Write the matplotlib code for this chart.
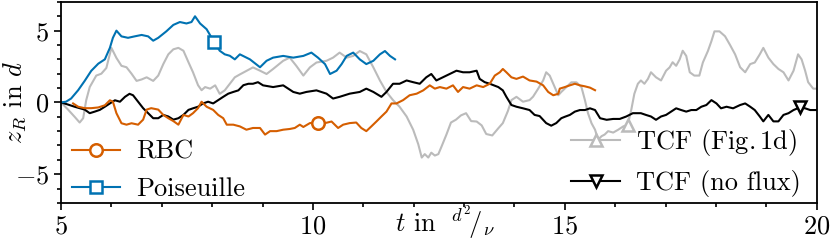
import matplotlib
matplotlib.use("Agg")
import matplotlib.pyplot as plt
from matplotlib.ticker import MultipleLocator

plt.rcParams['font.family'] = ['cmr10', 'DejaVu Serif']
plt.rcParams['mathtext.fontset'] = 'cm'
plt.rcParams['axes.formatter.use_mathtext'] = True
plt.rcParams['font.size'] = 19

# ---- data ----
t_poi = [5.0, 5.1, 5.2, 5.34, 5.47, 5.6, 5.74, 5.87, 5.97, 6.03, 6.1, 6.2, 6.33, 6.46, 6.6,
         6.73, 6.83, 6.93, 7.09, 7.23, 7.36, 7.49, 7.59, 7.66, 7.76, 7.89, 8.04, 8.15, 8.25,
         8.35, 8.45, 8.55, 8.75, 8.95, 9.08, 9.21, 9.41, 9.61, 9.81, 9.97, 10.1, 10.24, 10.34,
         10.47, 10.57, 10.67, 10.8, 10.93, 11.06, 11.2, 11.33, 11.43, 11.53, 11.63]
z_poi = [0.0, 0.05, 0.27, 0.85, 1.5, 2.2, 2.7, 3.0, 3.8, 4.5, 5.0, 4.6, 4.5, 4.6, 4.7,
         4.6, 4.3, 4.5, 4.95, 5.4, 5.6, 5.5, 5.6, 6.0, 5.5, 5.1, 4.2, 3.6, 3.35,
         3.25, 3.0, 3.35, 3.0, 2.45, 2.9, 3.12, 3.24, 3.12, 3.24, 3.47, 3.12, 2.67, 1.98,
         2.21, 2.67, 3.24, 3.47, 3.0, 2.67, 2.9, 3.35, 3.58, 3.24, 3.0]

t_rbc = [5.24, 5.34, 5.47, 5.6, 5.74, 5.87, 5.97, 6.03, 6.1, 6.2, 6.3, 6.4, 6.53, 6.63, 6.7,
         6.79, 6.93, 7.03, 7.13, 7.23, 7.33, 7.43, 7.53, 7.62, 7.72, 7.79, 7.89, 8.02, 8.12,
         8.22, 8.29, 8.42, 8.55, 8.68, 8.81, 8.95, 9.05, 9.15, 9.28, 9.41, 9.54, 9.64, 9.74,
         9.81, 9.94, 10.1, 10.24, 10.37, 10.5, 10.6, 10.73, 10.86, 10.96, 11.06, 11.16, 11.26,
         11.36, 11.46, 11.56, 11.66, 11.79, 11.92, 12.06, 12.19, 12.32, 12.42, 12.52, 12.65,
         12.78, 12.88, 12.98, 13.11, 13.25, 13.38, 13.51, 13.61, 13.71, 13.77, 13.84, 13.94,
         14.04, 14.17, 14.3, 14.44, 14.57, 14.67, 14.77, 14.87, 14.9, 15.0, 15.1, 15.2, 15.3,
         15.4, 15.5, 15.6]
z_rbc = [-0.07, -0.3, -0.4, -0.4, -0.35, -0.2, 0.15, 0.05, -0.75, -1.45, -1.55, -1.45, -1.55,
         -1.2, -0.5, -0.4, -0.5, -0.87, -1.1, -1.3, -1.55, -0.87, -0.98, -0.75, -0.4, 0.05,
         -0.3, -0.52, -0.87, -1.1, -1.55, -1.55, -1.67, -1.9, -1.78, -1.78, -2.24, -2.0, -2.0,
         -1.9, -1.85, -1.78, -1.55, -1.71, -1.44, -1.4, -1.44, -1.33, -1.78, -1.55, -1.44,
         -1.4, -1.78, -2.0, -1.67, -1.33, -0.98, -0.64, -0.07, -0.07, 0.16, 0.5, 0.61, 0.84,
         1.19, 0.96, 1.07, 0.96, 1.19, 0.73, 1.07, 0.96, 1.19, 1.07, 1.3, 1.87, 2.1, 2.33,
         2.1, 1.75, 1.64, 1.8, 1.53, 1.45, 1.19, 0.73, 0.5, 0.6, 0.96, 1.07, 1.19, 1.3, 1.19,
         1.12, 1.03, 0.85]

t_fig = [5.0, 5.14, 5.27, 5.37, 5.44, 5.5, 5.57, 5.64, 5.7, 5.8, 5.9, 6.0, 6.1, 6.2, 6.3,
         6.4, 6.5, 6.6, 6.7, 6.83, 6.93, 7.03, 7.13, 7.23, 7.33, 7.43, 7.53, 7.62, 7.72, 7.79,
         7.86, 7.96, 8.06, 8.15, 8.25, 8.35, 8.45, 8.55, 8.81, 8.95, 9.08, 9.21, 9.41, 9.54,
         9.67, 9.81, 9.94, 10.07, 10.27, 10.4, 10.53, 10.67, 10.8, 10.93, 11.06, 11.2, 11.33,
         11.46, 11.59, 11.72, 11.86, 11.99, 12.09, 12.16, 12.22, 12.29, 12.35, 12.42, 12.49,
         12.55, 12.65, 12.74, 12.84, 12.94, 13.04, 13.14, 13.25, 13.35, 13.44, 13.56, 13.68,
         13.77, 13.87, 13.94, 14.04, 14.17, 14.3, 14.37, 14.47, 14.57, 14.63, 14.7, 14.77,
         14.87, 14.93, 15.03, 15.13, 15.23, 15.33, 15.4, 15.46, 15.53, 15.6, 15.66, 15.73,
         15.79, 15.86, 15.96, 16.06, 16.16, 16.25, 16.32, 16.38, 16.45, 16.51, 16.58, 16.65,
         16.71, 16.81, 16.91, 17.01, 17.08, 17.14, 17.21, 17.28, 17.34, 17.41, 17.48, 17.57,
         17.67, 17.74, 17.84, 17.91, 17.97, 18.07, 18.18, 18.28, 18.38, 18.48, 18.58, 18.68,
         18.77, 18.87, 18.94, 19.04, 19.14, 19.24, 19.34, 19.44, 19.54, 19.63, 19.7, 19.77,
         19.83, 19.93, 20.0]
z_fig = [0.0, -0.5, -1.0, -1.4, -1.1, 0.15, 1.07, 1.5, 1.87, 2.0, 2.4, 3.8, 3.1, 2.55, 2.45,
         2.0, 1.5, 1.6, 1.75, 1.5, 1.87, 2.67, 3.35, 3.7, 3.8, 3.6, 2.8, 2.1, 1.2, 0.85,
         1.07, 0.96, 1.19, 0.6, 0.84, 1.3, 1.75, 1.95, 2.44, 2.21, 1.98, 2.33, 2.9, 3.12,
         2.55, 1.87, 2.44, 2.78, 2.9, 3.12, 3.47, 3.12, 3.24, 3.58, 3.35, 2.44, 1.53,
         0.73, 0.16, -0.3, -0.98, -1.9, -2.9, -3.84, -3.6, -3.84, -3.5, -3.7, -3.6,
         -3.1, -2.24, -1.4, -1.2, -0.9, -0.75, -1.3, -1.33, -1.6, -2.2, -2.3, -1.8,
         -1.44, -0.6, 0.16, 0.39, 0.05, 0.16, 0.4, 0.95, 1.53, 2.1, 1.87, 1.3,
         0.5, 0.73, 1.07, 1.4, 1.4, 1.07, 0.15, -0.75, -1.45, -1.9, -2.6, -2.35,
         -2.24, -2.0, -2.1, -1.9, -1.67, -1.55, -0.5, 0.6, 1.3, 1.53, 1.3, 1.64,
         2.1, 1.75, 1.53, 2.21, 2.44, 2.8, 2.55, 3.0, 3.6, 3.24, 2.1, 1.87,
         1.87, 2.78, 3.58, 4.27, 4.95, 4.95, 4.61, 4.0, 3.35, 2.45, 2.1, 2.67,
         2.78, 3.35, 3.8, 3.12, 2.67, 2.33, 2.1, 1.53, 2.21, 3.35, 3.0, 2.21,
         1.41, 0.96, 0.96]

t_nf = [5.0, 5.14, 5.27, 5.37, 5.47, 5.57, 5.67, 5.77, 5.87, 5.97, 6.07, 6.17, 6.27, 6.36,
        6.43, 6.53, 6.63, 6.73, 6.83, 6.93, 7.03, 7.13, 7.23, 7.33, 7.43, 7.53, 7.62, 7.72,
        7.82, 7.92, 8.02, 8.12, 8.22, 8.32, 8.42, 8.52, 8.62, 8.72, 8.81, 8.91, 9.01, 9.21,
        9.41, 9.61, 9.74, 9.87, 10.07, 10.27, 10.4, 10.53, 10.73, 10.93, 11.06, 11.2, 11.36,
        11.46, 11.59, 11.72, 11.86, 11.99, 12.12, 12.25, 12.35, 12.45, 12.58, 12.72, 12.85,
        12.98, 13.11, 13.25, 13.31, 13.41, 13.51, 13.68, 13.77, 13.84, 13.94, 14.04, 14.17,
        14.3, 14.4, 14.5, 14.63, 14.73, 14.83, 14.93, 15.0, 15.1, 15.2, 15.3, 15.4, 15.5,
        15.6, 15.7, 15.83, 15.96, 16.09, 16.22, 16.35, 16.51, 16.61, 16.71, 16.81, 16.91,
        17.01, 17.11, 17.21, 17.31, 17.41, 17.51, 17.61, 17.71, 17.81, 17.91, 18.01, 18.1,
        18.21, 18.34, 18.48, 18.58, 18.68, 18.77, 18.87, 18.94, 19.04, 19.14, 19.24, 19.34,
        19.44, 19.54, 19.66, 19.77, 19.87, 20.0]
z_nf = [0.0, -0.15, -0.3, -0.4, -0.5, -0.75, -0.64, -0.52, -0.3, -0.07, 0.15, 0.05, 0.39, 0.6,
        0.5, 0.05, -0.4, -0.75, -1.1, -1.1, -0.87, -0.98, -1.2, -1.1, -0.87, -0.52, -0.41, -0.3,
        -0.07, 0.05, -0.07, 0.16, 0.39, 0.61, 0.73, 0.84, 1.2, 1.3, 1.3, 1.41, 1.19, 1.07,
        1.19, 0.73, 0.61, 0.73, 0.84, 0.61, 0.27, 0.39, 0.61, 0.73, 0.96, 0.73, 0.39,
        0.73, 1.3, 1.3, 1.53, 1.41, 1.3, 1.75, 1.98, 1.53, 1.75, 1.98, 2.21,
        2.1, 2.1, 2.21, 1.64, 1.41, 1.3, 1.07, 0.84, 0.39, -0.18, -0.3, -0.41,
        -0.53, -0.87, -0.95, -1.44, -1.62, -1.44, -1.1, -1.0, -0.87, -0.64, -0.53, -0.53, -0.41,
        -0.53, -1.1, -1.21, -1.15, -1.15, -0.98, -0.75, -0.75, -0.87, -0.98, -1.21, -0.98,
        -0.87, -0.64, -0.41, -0.53, -0.64, -0.53, -0.53, -0.3, -0.18, 0.16, -0.07, -0.41,
        -0.3, -0.41, -0.18, -0.07, -0.3, -0.53, -0.98, -1.32, -0.87, -1.32, -1.32, -0.87,
        -0.75, -0.53, -0.35, -0.41, -0.53, -0.53]

labels = ["RBC", "Poiseuille", r"TCF (Fig.$\,$1d)", "TCF (no flux)"]
marker_t = [10.1, 8.04, 16.25, 19.66]

c_rbc = "#D55E00"
c_poi = "#0072B2"
c_fig = "#BBBBBB"
c_nf = "#000000"

fig = plt.figure(figsize=(8.3, 2.41), dpi=100)
ax = fig.add_axes([0.0735, 0.158, 0.9105, 0.834])

def idx(ts, t0):
    return min(range(len(ts)), key=lambda i: abs(ts[i] - t0))

lw = 1.5
ms = 9
mew = 1.8
h_fig, = ax.plot(t_fig, z_fig, color=c_fig, lw=lw, marker='^', ms=ms, mew=mew, mfc='white',
                 markevery=[idx(t_fig, marker_t[2])], label=labels[2])
h_nf, = ax.plot(t_nf, z_nf, color=c_nf, lw=lw, marker='v', ms=ms, mew=mew, mfc='white',
                markevery=[idx(t_nf, marker_t[3])], label=labels[3])
h_rbc, = ax.plot(t_rbc, z_rbc, color=c_rbc, lw=lw, marker='o', ms=ms, mew=mew, mfc='white',
                 markevery=[idx(t_rbc, marker_t[0])], label=labels[0])
h_poi, = ax.plot(t_poi, z_poi, color=c_poi, lw=lw, marker='s', ms=ms, mew=mew, mfc='white',
                 markevery=[idx(t_poi, marker_t[1])], label=labels[1])

ax.set_xlim(5, 20)
ax.set_ylim(-7, 7)
ax.set_xticks([5, 10, 15, 20])
ax.set_yticks([-5, 0, 5])
ax.xaxis.set_minor_locator(MultipleLocator(1))
ax.yaxis.set_minor_locator(MultipleLocator(1))
ax.tick_params(which='both', direction='out', top=False, right=False, width=1.2)
ax.tick_params(which='major', length=5)
ax.tick_params(which='minor', length=3)
for s in ax.spines.values():
    s.set_linewidth(1.3)

ax.set_ylabel(r"$z_R$ in $d$")
ax.yaxis.set_label_coords(-0.044, 0.5)
ax.set_xlabel(r"$t$ in $\;{}^{d^2}\!/{}_{\nu}$")
ax.xaxis.set_label_coords(0.508, -0.004)
ax.xaxis.label.set_va('top')

leg1 = ax.legend(handles=[h_rbc, h_poi], loc='lower left', frameon=False,
                 bbox_to_anchor=(0.014, 0.01),
                 handlelength=1.85, handletextpad=0.6, labelspacing=0.5,
                 borderaxespad=0.0, borderpad=0.0)
ax.add_artist(leg1)
ax.legend(handles=[h_fig, h_nf], loc='lower right', frameon=False,
          bbox_to_anchor=(0.979, 0.028),
          handlelength=1.85, handletextpad=0.6, labelspacing=0.45,
          borderaxespad=0.0, borderpad=0.0)

fig.savefig("out.png", dpi=100)
